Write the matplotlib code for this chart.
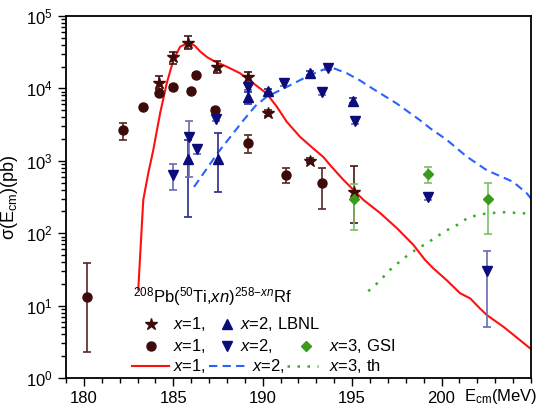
import matplotlib
matplotlib.use("Agg")
import matplotlib.pyplot as plt
import numpy as np

plt.rcParams['font.family'] = ['Liberation Sans', 'DejaVu Sans']
plt.rcParams['mathtext.fontset'] = 'custom'
plt.rcParams['mathtext.rm'] = 'Liberation Sans'
plt.rcParams['mathtext.it'] = 'Liberation Sans:italic'
plt.rcParams['font.size'] = 12

# x=1, LBNL (stars)
e_star = [184.2, 185.0, 185.84, 187.46, 189.16, 190.28, 192.65, 195.1]
s_star = [1.2e4, 2.7e4, 4.3e4, 2.0e4, 1.44e4, 4.6e3, 1.0e3, 374]
lo_star = [2.2e3, 5e3, 8e3, 3.8e3, 2.4e3, 400, 80, 237]
hi_star = [2.8e3, 5e3, 1e4, 4e3, 2.4e3, 400, 80, 476]

# x=1, GSI (circles)
e_circ = [180.15, 182.2, 183.29, 184.2, 185.0, 185.97, 186.27, 187.33, 189.2, 191.3, 193.33]
s_circ = [13, 2660, 5500, 8700, 1.03e4, 9300, 1.55e4, 5000, 1750, 630, 500]
lo_circ = [10.7, 720, 300, 300, 700, 600, 800, 300, 470, 130, 286]
hi_circ = [26, 700, 300, 300, 700, 600, 800, 300, 490, 160, 294]

# x=2, LBNL (up triangles)
e_up = [185.84, 187.52, 189.16, 190.28, 192.65, 195.07]
s_up = [1070, 1070, 7600, 9300, 1.62e4, 6800]
lo_up = [900, 700, 1430, 600, 1000, 600]
hi_up = [900, 1390, 1430, 600, 1000, 600]

# x=2, GSI (down triangles)
e_dn = [185.0, 185.88, 186.31, 187.39, 189.16, 191.19, 193.3, 193.67, 195.16, 199.26, 202.56]
s_dn = [630, 2100, 1450, 3800, 1.04e4, 1.18e4, 9000, 1.9e4, 3600, 318, 30]
lo_dn = [240, 1500, 200, 300, 1000, 1000, 800, 1000, 400, 30, 25]
hi_dn = [270, 1500, 200, 300, 1000, 1000, 800, 1000, 400, 30, 26]

# x=3, GSI (diamonds)
e_dia = [195.1, 199.26, 202.58]
s_dia = [295, 650, 295]
lo_dia = [184, 150, 197]
hi_dia = [185, 160, 195]

# theory curves (log10 sigma)
e_th1 = [183.04, 183.32, 183.6, 183.88, 184.26, 184.63, 185.0, 185.38, 185.84, 186.2, 186.5,
         186.9, 187.3, 187.99, 188.73, 189.48, 190.22, 190.78, 191.34, 192.09, 192.83, 193.4,
         193.77, 194.5, 195.63, 196.56, 197.5, 198.42, 199.08, 199.54, 200.29, 201.04, 201.6,
         202.15, 202.53, 203.5, 205.0]
l_th1 = [1.225, 2.46, 2.83, 3.15, 3.656, 4.07, 4.39, 4.576, 4.63, 4.59, 4.51,
         4.43, 4.375, 4.30, 4.21, 4.07, 3.93, 3.75, 3.54, 3.33, 3.17, 3.05,
         2.94, 2.74, 2.46, 2.28, 2.07, 1.84, 1.63, 1.515, 1.35, 1.17, 1.10,
         0.96, 0.87, 0.70, 0.40]

e_th2 = [186.16, 187.52, 188.92, 189.6, 190.22, 191.34, 192.65, 193.5, 193.95, 194.7, 195.44,
         196.0, 197.5, 198.8, 199.36, 200.29, 201.4, 202.53, 204.0, 204.77, 205.0]
l_th2 = [2.64, 3.12, 3.56, 3.76, 3.885, 4.02, 4.185, 4.27, 4.28, 4.21, 4.11,
         4.02, 3.79, 3.56, 3.45, 3.29, 3.06, 2.87, 2.71, 2.55, 2.48]

e_th3 = [195.9, 196.5, 197.1, 197.86, 198.6, 199.17, 199.9, 200.29, 201.0, 201.5, 202.53,
         203.55, 204.58, 205.0]
l_th3 = [1.20, 1.33, 1.49, 1.65, 1.78, 1.86, 1.98, 2.04, 2.13, 2.22, 2.275,
         2.29, 2.275, 2.27]

brown = '#3e0a0a'
navy = '#0c0c7a'
green = '#3a9a1a'
red = '#ff1010'
blue = '#2a62ff'
lgreen = '#3aaa2a'
dash2 = (4, 2.5)
dash3 = (1, 3)

fig = plt.figure(figsize=(5.47, 4.12), dpi=100)
ax = fig.add_axes([0.1207, 0.0825, 0.850, 0.8786])

ax.plot(e_th1, 10 ** np.array(l_th1), color=red, lw=1.5)
ax.plot(e_th2, 10 ** np.array(l_th2), color=blue, lw=1.5, dashes=dash2)
ax.plot(e_th3, 10 ** np.array(l_th3), color=lgreen, lw=1.8, dashes=dash3)

kw = dict(linestyle='none', capsize=3, elinewidth=1.2, capthick=1.2)
ax.errorbar(e_circ, s_circ, yerr=[lo_circ, hi_circ], marker='o', ms=6.5, color=brown,
            ecolor='#5a2525', **kw)
ax.errorbar(e_star, s_star, yerr=[lo_star, hi_star], marker='*', ms=9, color=brown,
            ecolor='#4a1515', **kw)
ax.errorbar(e_up, s_up, yerr=[lo_up, hi_up], marker='^', ms=7, color=navy,
            ecolor='#2a2a90', **kw)
ax.errorbar(e_dn, s_dn, yerr=[lo_dn, hi_dn], marker='v', ms=7, color=navy,
            ecolor='#6a6ab4', **kw)
ax.errorbar(e_dia, s_dia, yerr=[lo_dia, hi_dia], marker='D', ms=5.5, color=green,
            ecolor='#7cc060', **kw)

ax.set_yscale('log')
ax.set_ylim(1, 1e5)
ax.set_xlim(179, 205)
ax.set_xticks([180, 185, 190, 195, 200])
ax.set_xticks(np.arange(179, 206, 1), minor=True)
ax.tick_params(which='both', direction='out', top=False, right=False, width=1)
ax.tick_params(which='major', length=6)
ax.tick_params(which='minor', length=3.5)
for sp in ax.spines.values():
    sp.set_linewidth(1.3)

ax.set_ylabel('σ(E$_{\\mathrm{cm}}$)(pb)', fontsize=13)
ax.yaxis.set_label_coords(-0.10, 0.5)
ax.text(0.935, -0.05, 'E$_{\\mathrm{cm}}$(MeV)', transform=ax.transAxes,
        ha='center', va='center', fontsize=12)

# legend, laid out by hand in axes fractions
tr = ax.transAxes
ax.text(0.144, 0.224, '$^{208}$Pb($^{50}$Ti,$xn$)$^{258\\mathrm{-}xn}$Rf',
        transform=tr, ha='left', va='center', fontsize=12)
rows = [0.149, 0.088, 0.033]
ax.plot([0.182], [rows[0]], '*', ms=9, color=brown, transform=tr)
ax.plot([0.182], [rows[1]], 'o', ms=6.5, color=brown, transform=tr)
ax.plot([0.141, 0.222], [rows[2]] * 2, color=red, lw=1.5, transform=tr)
ax.plot([0.3456], [rows[0]], '^', ms=7, color=navy, transform=tr)
ax.plot([0.3456], [rows[1]], 'v', ms=7, color=navy, transform=tr)
ax.plot([0.3075, 0.391], [rows[2]] * 2, color=blue, lw=1.5, dashes=dash2, transform=tr)
ax.plot([0.5155], [rows[1]], 'D', ms=5.5, color=green, transform=tr)
ax.plot([0.4746, 0.542], [rows[2]] * 2, color=lgreen, lw=1.8, dashes=dash3, transform=tr)
for x, y, s in [(0.230, rows[0], '$x$=1,'), (0.230, rows[1], '$x$=1,'),
                (0.230, rows[2], '$x$=1,'), (0.374, rows[0], '$x$=2, LBNL'),
                (0.374, rows[1], '$x$=2,'), (0.399, rows[2], '$x$=2,'),
                (0.5656, rows[1], '$x$=3, GSI'), (0.5656, rows[2], '$x$=3, th')]:
    ax.text(x, y, s, transform=tr, ha='left', va='center', fontsize=12)

fig.savefig('out.png', dpi=100)
